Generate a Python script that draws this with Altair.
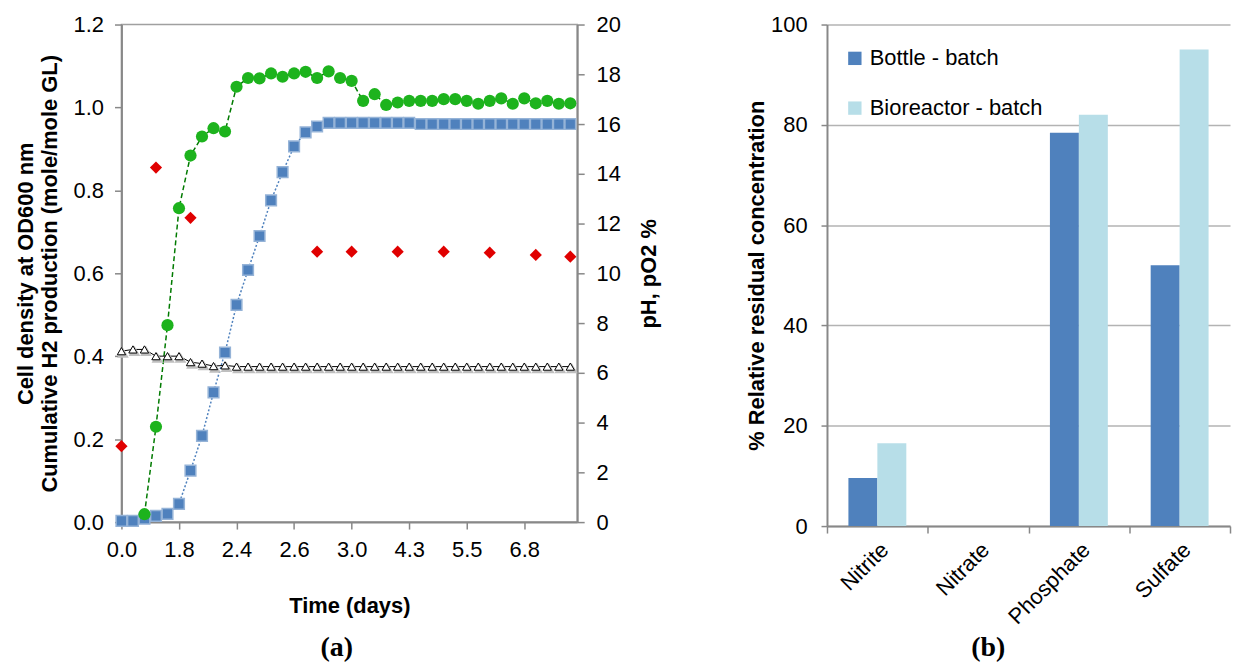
import altair as alt
import pandas as pd

FONT = "Liberation Sans"

# ---------------- panel (a) data ----------------
sample_idx = list(range(40))
x_tick_idx = [0, 5, 10, 15, 20, 25, 30, 35]
x_tick_labels = ["0.0", "1.8", "2.4", "2.6", "3.0", "4.3", "5.5", "6.8"]

h2_prod = [0.003, 0.003, 0.008, 0.015, 0.020, 0.044, 0.124, 0.208, 0.313, 0.409,
           0.524, 0.608, 0.690, 0.776, 0.844, 0.906, 0.940, 0.954, 0.963, 0.963,
           0.963, 0.963, 0.963, 0.963, 0.963, 0.963, 0.960, 0.960, 0.960, 0.960,
           0.960, 0.960, 0.960, 0.960, 0.960, 0.960, 0.960, 0.960, 0.960, 0.960]

od_idx = list(range(2, 40))
od600 = [0.019, 0.230, 0.475, 0.757, 0.884, 0.930, 0.950, 0.942, 1.050, 1.071,
         1.070, 1.082, 1.074, 1.082, 1.086, 1.071, 1.087, 1.071, 1.064, 1.016,
         1.032, 1.006, 1.012, 1.016, 1.016, 1.016, 1.020, 1.020, 1.016, 1.009,
         1.016, 1.022, 1.009, 1.022, 1.010, 1.016, 1.009, 1.010]

ph = [6.87, 6.94, 6.94, 6.67, 6.67, 6.67, 6.43, 6.37, 6.27, 6.30,
      6.25, 6.25, 6.25, 6.25, 6.25, 6.25, 6.25, 6.25, 6.25, 6.25,
      6.25, 6.25, 6.25, 6.25, 6.25, 6.25, 6.25, 6.25, 6.25, 6.25,
      6.25, 6.25, 6.25, 6.25, 6.25, 6.25, 6.25, 6.25, 6.25, 6.25]

po2_idx = [0, 3, 6, 17, 20, 24, 28, 32, 36, 39]
po2 = [3.05, 14.25, 12.23, 10.87, 10.87, 10.87, 10.87, 10.83, 10.74, 10.67]

left_ticks = [0.0, 0.2, 0.4, 0.6, 0.8, 1.0, 1.2]
right_ticks = [0, 2, 4, 6, 8, 10, 12, 14, 16, 18, 20]

# ---------------- panel (b) data ----------------
ions = ["Nitrite", "Nitrate", "Phosphate", "Sulfate"]
series_names = ["Bottle - batch", "Bioreactor - batch"]
bottle_batch = [9.6, 0.0, 78.4, 52.0]
bioreactor_batch = [16.5, 0.0, 82.0, 95.0]
b_ticks = [0, 20, 40, 60, 80, 100]

# ---------------- frames ----------------
df_h2 = pd.DataFrame({"idx": sample_idx, "v": h2_prod})
df_od = pd.DataFrame({"idx": od_idx, "v": od600})
df_ph = pd.DataFrame({"idx": sample_idx, "v": ph})
df_po2 = pd.DataFrame({"idx": po2_idx, "v": po2})

rows = []
for i, ion in enumerate(ions):
    rows.append({"ion": ion, "series": series_names[0], "value": bottle_batch[i]})
    rows.append({"ion": ion, "series": series_names[1], "value": bioreactor_batch[i]})
df_b = pd.DataFrame(rows)

label_expr = "[" + ",".join("'%s'" % s for s in x_tick_labels) + "][round(datum.value/5)]"

x_enc = alt.X(
    "idx:Q",
    scale=alt.Scale(domain=[0, 39.6], nice=False, zero=False),
    axis=alt.Axis(values=x_tick_idx, labelExpr=label_expr, title="Time (days)",
                  grid=False, tickSize=7, tickWidth=1.5, domainWidth=2,
                  labelFlush=False, labelPadding=11, titlePadding=35,
                  labelFontSize=22, titleFontSize=22, titleFontWeight="bold"),
)

y_left = alt.Y(
    "v:Q",
    scale=alt.Scale(domain=[0, 1.2], nice=False),
    axis=alt.Axis(orient="left", values=left_ticks, format=".1f",
                  title=["Cell density at OD600 nm",
                         "Cumulative H2 production (mole/mole GL)"],
                  grid=False, tickSize=7, tickWidth=1.5, domainWidth=2,
                  labelPadding=11, titlePadding=12, labelFontSize=22,
                  titleFontSize=22, titleFontWeight="bold", titleLineHeight=24),
)

y_right = alt.Y(
    "v:Q",
    scale=alt.Scale(domain=[0, 20], nice=False),
    axis=alt.Axis(orient="right", values=right_ticks, title="pH, pO2 %",
                  titleAngle=-90, titleBaseline="top", grid=False, tickSize=7,
                  tickWidth=1.5, domainWidth=2, labelPadding=12, titlePadding=18,
                  labelFontSize=22, titleFontSize=22, titleFontWeight="bold"),
)

blue_line = alt.Chart(df_h2).mark_line(color="#4F81BD", strokeDash=[2, 2], strokeWidth=1.5).encode(x=x_enc, y=y_left)
blue_pts = alt.Chart(df_h2).mark_square(size=115, fill="#4F81BD", stroke="#95B3D7", strokeWidth=1.5, opacity=1).encode(x=x_enc, y=y_left)
green_line = alt.Chart(df_od).mark_line(color="#007A00", strokeDash=[5, 3], strokeWidth=1.5).encode(x=x_enc, y=y_left)
green_pts = alt.Chart(df_od).mark_circle(size=150, color="#1DB31D", opacity=1).encode(x=x_enc, y=y_left)

tri_line = alt.Chart(df_ph).mark_line(color="black", strokeWidth=1).encode(x=x_enc, y=y_right)
tri_shadow = alt.Chart(df_ph).mark_point(shape="triangle-up", size=70, filled=True, fill="#BFBFBF", stroke="#BFBFBF", opacity=1, xOffset=1.5, yOffset=2).encode(x=x_enc, y=y_right)
tri_pts = alt.Chart(df_ph).mark_point(shape="triangle-up", size=70, filled=True, fill="white", stroke="black", strokeWidth=1, opacity=1).encode(x=x_enc, y=y_right)
red_pts = alt.Chart(df_po2).mark_point(shape="diamond", size=150, filled=True, color="#E00000", opacity=1).encode(x=x_enc, y=y_right)

left_layer = alt.layer(blue_line, blue_pts, green_line, green_pts)
right_layer = alt.layer(tri_line, tri_shadow, tri_pts, red_pts)

panel_a = alt.layer(left_layer, right_layer).resolve_scale(y="independent").properties(
    width=458, height=500,
    view=alt.ViewBackground(stroke="#A0A0A0", strokeWidth=1.5),
    title=alt.TitleParams("(a)", orient="bottom", font="Liberation Serif", fontSize=28,
                          fontWeight="bold", anchor="middle", frame="bounds", offset=18,
                          color="black"),
)

# ---------------- panel (b) ----------------
panel_b = alt.Chart(df_b).mark_bar().encode(
    x=alt.X("ion:N", sort=ions, scale=alt.Scale(paddingInner=0, paddingOuter=0),
            axis=alt.Axis(title=None, labelAngle=-45, tickBand="extent", tickSize=7,
                          tickWidth=1.5, domainWidth=2, labelFontSize=22, labelPadding=6,
                          grid=False)),
    xOffset=alt.XOffset("series:N", sort=series_names,
                        scale=alt.Scale(paddingInner=0, paddingOuter=0.74)),
    y=alt.Y("value:Q", scale=alt.Scale(domain=[0, 100], nice=False),
            axis=alt.Axis(values=b_ticks, title="% Relative residual concentration",
                          grid=True, gridColor="#B3B3B3", gridWidth=1.5,
                          tickSize=6, tickWidth=1.5, domainWidth=2, labelPadding=14,
                          titlePadding=2, labelFontSize=22, titleFontSize=22,
                          titleFontWeight="bold")),
    color=alt.Color("series:N", sort=series_names,
                    scale=alt.Scale(domain=series_names, range=["#4F81BD", "#B7DEE8"]),
                    legend=alt.Legend(orient="none", legendX=17, legendY=23, title=None,
                                      labelFontSize=22, labelLimit=400, symbolType="square",
                                      symbolSize=180, rowPadding=28, labelOffset=4,
                                      symbolStrokeWidth=0, symbolOpacity=1,
                                      labelFont=FONT, labelColor="black")),
).properties(
    width=405, height=504,
    view=alt.ViewBackground(stroke="transparent"),
    title=alt.TitleParams("(b)", orient="bottom", font="Liberation Serif", fontSize=28,
                          fontWeight="bold", anchor="middle", frame="bounds", offset=6,
                          color="black"),
)

chart = alt.hconcat(panel_a, panel_b, spacing=84).resolve_legend(
    color="independent"
).properties(
    padding={"left": 5, "top": 3, "right": 0, "bottom": 0}
).configure_axis(
    labelFont=FONT, titleFont=FONT, labelColor="black", titleColor="black",
    domainColor="black", tickColor="black",
).configure(background="white")

chart.save("out.html", embed_options={"renderer": "svg", "actions": False})
